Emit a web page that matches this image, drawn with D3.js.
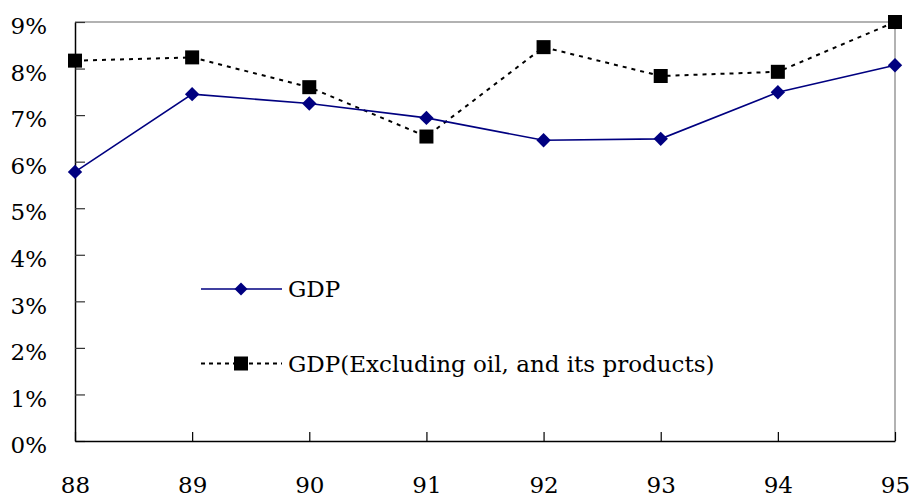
<!DOCTYPE html>
<html>
<head>
<meta charset="utf-8">
<script src="https://cdn.jsdelivr.net/npm/d3@7"></script>
<style>
  html, body { margin: 0; padding: 0; background: #fff; }
  svg { display: block; }
  svg text { font-family: "DejaVu Serif", serif; fill: #000; font-size: 23px; }
</style>
</head>
<body>
<svg id="chart" width="911" height="497"></svg>
<script>
// Years on the horizontal axis
const years = ["88", "89", "90", "91", "92", "93", "94", "95"];
// Growth rates (%)
const gdp = [5.78, 7.45, 7.25, 6.94, 6.46, 6.49, 7.49, 8.07];
const gdpExOil = [8.17, 8.24, 7.60, 6.54, 8.46, 7.84, 7.93, 9.0];
// Vertical axis ticks (%)
const yTicks = [0, 1, 2, 3, 4, 5, 6, 7, 8, 9];
const seriesNames = ["GDP", "GDP(Excluding oil, and its products)"];

const svg = d3.select("#chart");
const plotL = 75, plotR = 895, plotT = 22, plotB = 441;

const x = d3.scalePoint().domain(years).range([plotL, plotR]);
const y = d3.scaleLinear().domain([0, 9]).range([plotB, plotT]);

// Frame: light top/right edges
svg.append("path")
  .attr("d", `M${plotL},${plotT}H${plotR}V${plotB}`)
  .attr("fill", "none").attr("stroke", "#999").attr("stroke-width", 1.5);

// Left axis with inward ticks
const yAxis = svg.append("g").attr("transform", `translate(${plotL},0)`)
  .call(d3.axisLeft(y).tickValues(yTicks).tickSizeInner(-10).tickSizeOuter(0)
    .tickFormat(d => d + "%"));
yAxis.attr("font-family", null).attr("font-size", null);
yAxis.select(".domain").attr("stroke", "#000").attr("stroke-width", 1.5);
yAxis.selectAll(".tick line").attr("stroke", "#333").attr("stroke-width", 1.2);
yAxis.selectAll(".tick text").attr("x", -28).attr("dy", "0.51em");

// Bottom axis with inward ticks
const xAxis = svg.append("g").attr("transform", `translate(0,${plotB})`)
  .call(d3.axisBottom(x).tickSizeInner(-9).tickSizeOuter(0));
xAxis.attr("font-family", null).attr("font-size", null);
xAxis.select(".domain").attr("stroke", "#000").attr("stroke-width", 1.5);
xAxis.selectAll(".tick line").attr("stroke", "#000").attr("stroke-width", 1.2);
xAxis.selectAll(".tick text").attr("y", 52).attr("dy", 0);

const line = d3.line().x((d, i) => x(years[i])).y(d => y(d));

// Dashed black series
svg.append("path").datum(gdpExOil)
  .attr("d", line).attr("fill", "none")
  .attr("stroke", "#000").attr("stroke-width", 2).attr("stroke-dasharray", "4,5");

// Solid navy series
svg.append("path").datum(gdp)
  .attr("d", line).attr("fill", "none")
  .attr("stroke", "#000080").attr("stroke-width", 1.6);

const diamond = s => `M0,${-s}L${s},0L0,${s}L${-s},0Z`;

svg.append("g").selectAll("path").data(gdp).join("path")
  .attr("transform", (d, i) => `translate(${x(years[i])},${y(d)})`)
  .attr("d", diamond(7.2)).attr("fill", "#000080");

svg.append("g").selectAll("rect").data(gdpExOil).join("rect")
  .attr("x", (d, i) => x(years[i]) - 7).attr("y", d => y(d) - 7)
  .attr("width", 14).attr("height", 14).attr("fill", "#000");

// Legend
const legend = svg.append("g");
const lg1 = legend.append("g").attr("transform", "translate(0,289)");
lg1.append("line").attr("x1", 201).attr("x2", 282)
  .attr("stroke", "#000080").attr("stroke-width", 1.6);
lg1.append("path").attr("transform", "translate(241,0)").attr("d", diamond(6.5)).attr("fill", "#000080");
lg1.append("text").attr("x", 288).attr("y", 8).text(seriesNames[0]);

const lg2 = legend.append("g").attr("transform", "translate(0,363.5)");
lg2.append("line").attr("x1", 201).attr("x2", 282)
  .attr("stroke", "#000").attr("stroke-width", 2).attr("stroke-dasharray", "4,4");
lg2.append("rect").attr("x", 234).attr("y", -7).attr("width", 14).attr("height", 14).attr("fill", "#000");
lg2.append("text").attr("x", 288).attr("y", 8).text(seriesNames[1]);
</script>
</body>
</html>
